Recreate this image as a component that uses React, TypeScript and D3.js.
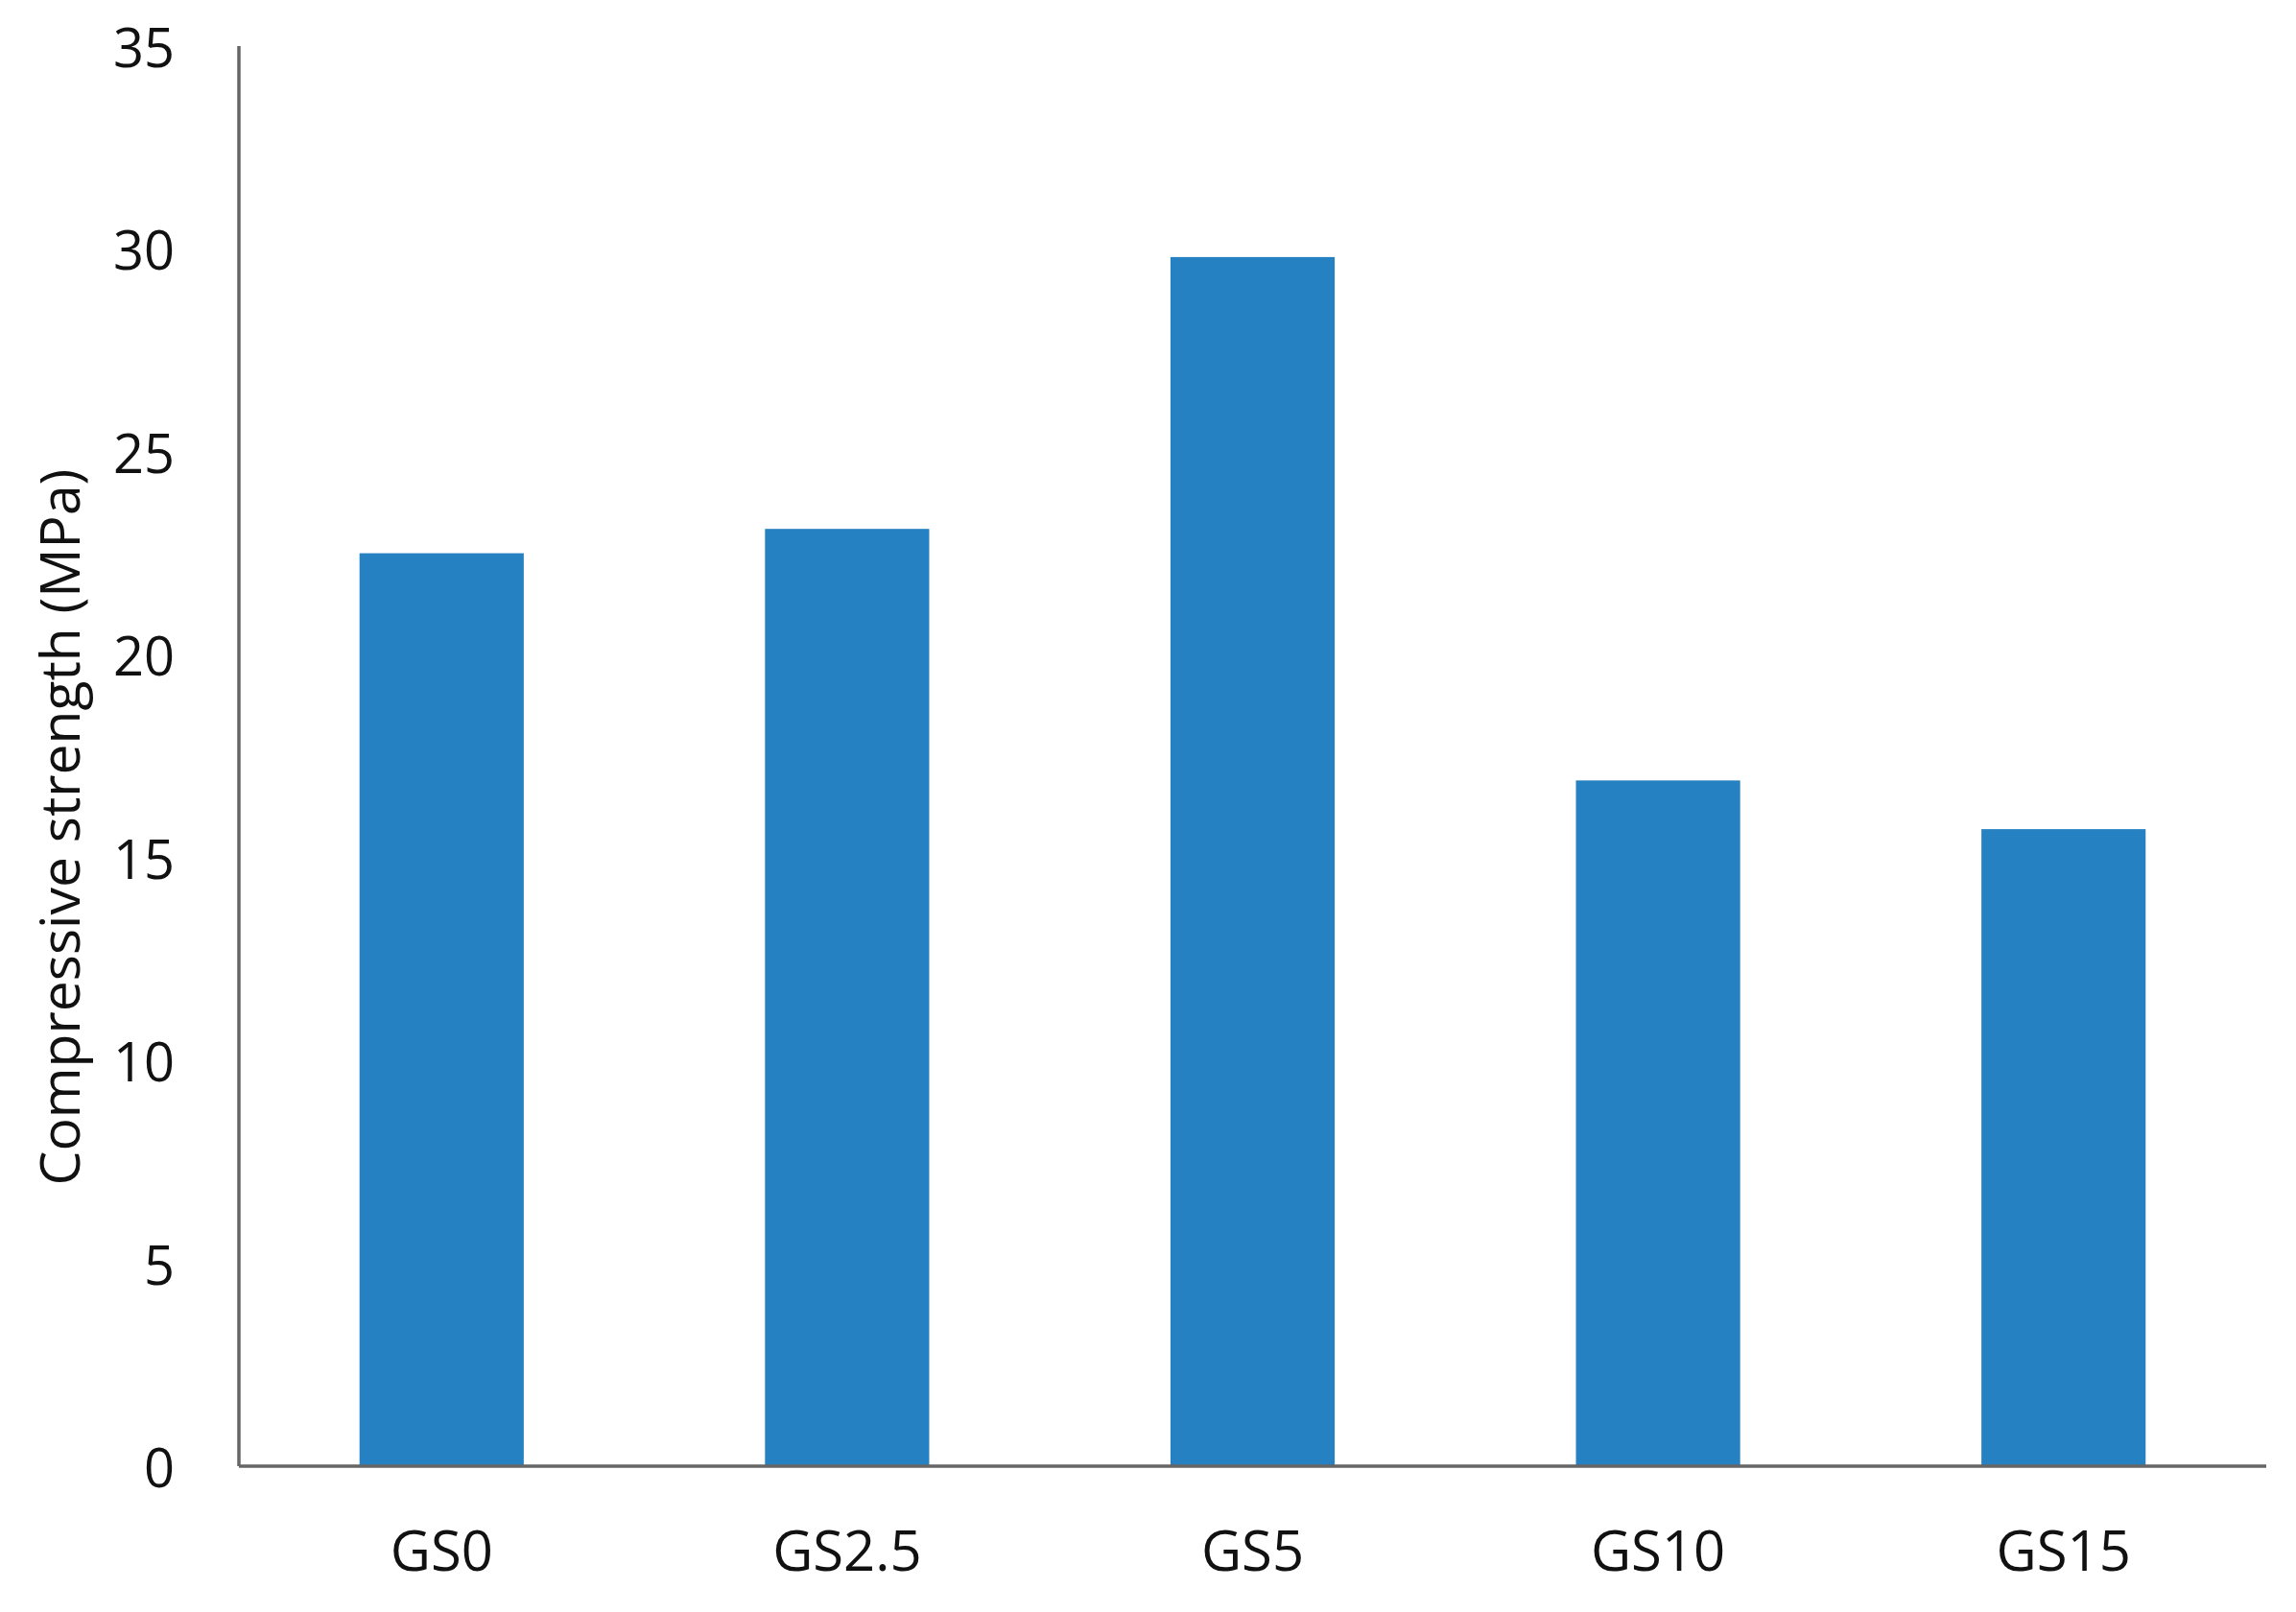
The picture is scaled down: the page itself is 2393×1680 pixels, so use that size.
import React from "react";
import * as d3 from "d3";

const categories = ["GS0", "GS2.5", "GS5", "GS10", "GS15"];
const values = [22.5, 23.1, 29.8, 16.9, 15.7];
const yTicks = [0, 5, 10, 15, 20, 25, 30, 35];
const yTitle = "Compressive strength (MPa)";

const W = 2393;
const H = 1680;
const left = 249;
const right = 2362;
const top = 48;
const bottom = 1528;
const FONT = "'Open Sans', 'Noto Sans', sans-serif";

export default function App() {
  const x = d3
    .scaleBand<string>()
    .domain(categories)
    .range([left, right])
    .paddingInner(0.595)
    .paddingOuter(0.2975);
  const y = d3.scaleLinear().domain([0, 35]).range([bottom, top]);

  return (
    <svg
      width={W}
      height={H}
      style={{ position: "absolute", left: 0, top: 0, background: "#fff" }}
    >
      <rect x={0} y={0} width={W} height={H} fill="#fff" />
      {categories.map((c, i) => (
        <rect
          key={c}
          x={x(c)}
          y={y(values[i])}
          width={x.bandwidth()}
          height={y(0) - y(values[i])}
          fill="#2581c1"
        />
      ))}
      <line x1={left} x2={left} y1={top} y2={bottom} stroke="#666" strokeWidth={3.5} />
      <line x1={left} x2={right} y1={bottom} y2={bottom} stroke="#666" strokeWidth={3.5} />
      {yTicks.map((t) => (
        <text
          key={t}
          x={182}
          y={y(t)}
          textAnchor="end"
          dominantBaseline="central"
          fontFamily={FONT}
          fontSize={56}
          fill="#111"
        >
          {t}
        </text>
      ))}
      {categories.map((c) => (
        <text
          key={c}
          x={(x(c) as number) + x.bandwidth() / 2}
          y={1637}
          textAnchor="middle"
          fontFamily={FONT}
          fontSize={58}
          fill="#111"
        >
          {c}
        </text>
      ))}
      <text
        transform={`translate(61, 862) rotate(-90)`}
        textAnchor="middle"
        dominantBaseline="central"
        fontFamily={FONT}
        fontSize={57}
        fill="#111"
      >
        {yTitle}
      </text>
    </svg>
  );
}
